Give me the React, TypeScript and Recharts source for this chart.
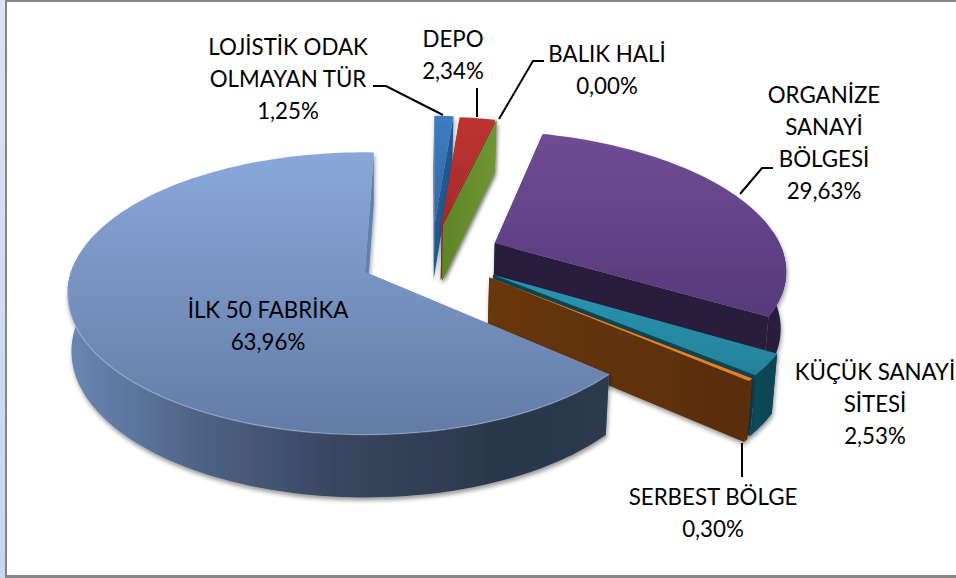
import React from "react";
import { PieChart, Pie } from "recharts";

// ---- data ----
const sliceNames = ["LOJİSTİK ODAK OLMAYAN TÜR", "DEPO", "BALIK HALİ", "ORGANİZE SANAYİ BÖLGESİ", "KÜÇÜK SANAYİ SİTESİ", "SERBEST BÖLGE", "İLK 50 FABRİKA"];
const sliceValues = [1.25, 2.34, 0.0, 29.63, 2.53, 0.3, 63.96];
const labelLines = [
  ["LOJİSTİK ODAK", "OLMAYAN TÜR", "1,25%"],
  ["DEPO", "2,34%"],
  ["BALIK HALİ", "0,00%"],
  ["ORGANİZE", "SANAYİ", "BÖLGESİ", "29,63%"],
  ["KÜÇÜK SANAYİ", "SİTESİ", "2,53%"],
  ["SERBEST BÖLGE", "0,30%"],
  ["İLK 50 FABRİKA", "63,96%"],
];

// ---- appearance ----
const W = 956, H = 578;
const CX = 365, CY = 272, R = 294;
const TILT = 0.469, PERSP = 0.152, DEPTH = 57, BOTTOM_Y = 1.036, BOTTOM_X = 0.987;
const explode: [number, number][] = [[0.25, -0.37], [0.275, -0.36], [0.28, -0.355], [0.456, -0.215], [0.434, 0.02], [0.42, 0.04], [0, 0]];
const styles = [
  { top: ["#3f7cc0", "#2f68a8"], wall: [[0, "#2a5f9c"], [1, "#2a5f9c"]], side: ["#255690", "#255690"] },
  { top: ["#bd3431", "#a52a28"], wall: [[0, "#8a2321"], [1, "#8a2321"]], side: ["#a02927", "#a02927"] },
  { top: ["#7aa336", "#6b9130"], wall: [[0, "#6b9130"], [1, "#6b9130"]], side: ["#5f8529", "#6f9632"] },
  { top: ["#6f4c94", "#573a7c"], wall: [[0, "#291b3e"], [1, "#291b3e"]], side: ["#291b3e", "#291b3e"] },
  { top: ["#2b96b2", "#24819b"], wall: [[0, "#0f4a59"], [1, "#0f4452"]], side: ["#0e4452", "#0e4452"] },
  { top: ["#e68222", "#e68222"], wall: [[0, "#5c2f08"], [1, "#5c2f08"]], side: ["#693709", "#582d08"] },
  {
    top: ["#8aa7da", "#637ca6"],
    wall: [[0, "#6a87b4"], [0.25, "#4d6284"], [0.5, "#38465f"], [0.8, "#2b384c"], [1, "#2d3a4f"]],
    side: ["#6180b0", "#6180b0"],
  },
];
const labelPos: [number, number][] = [[288, 55], [453, 47], [607, 62], [824, 103], [875, 380], [713, 505], [268, 318]];
const labelLeaders: number[][][] = [
  [[373, 86], [386, 86], [443, 115]],
  [[477, 88], [477, 117]],
  [[544, 61], [533, 61], [499, 119]],
  [[773, 168], [762, 168], [740, 194]],
  [],
  [[742, 443], [742, 477]],
  [],
];
const LINE_H = 32, FONT = 22.3;

const rad = (d: number) => (d * Math.PI) / 180;
type Pt = [number, number];

function project(cx: number, cy: number, r: number, X: number, Y: number, bottom: boolean): Pt {
  const w = 1 - PERSP * Y;
  const ax = bottom ? r * BOTTOM_X : r;
  const ay = r * TILT * (bottom ? BOTTOM_Y : 1);
  return [cx + (ax * X) / w, cy + (bottom ? DEPTH : 0) + (ay * Y) / w];
}
const coords = (pts: Pt[]) => pts.map((p) => p[0].toFixed(1) + " " + p[1].toFixed(1)).join("L");
const poly = (pts: Pt[]) => "M" + coords(pts) + "Z";

function Slice3D(props: any) {
  const { cx, cy, outerRadius, startAngle, endAngle, index } = props;
  const [ox, oy] = explode[index];
  const at = (a: number, bottom: boolean): Pt =>
    project(cx, cy, outerRadius, ox + Math.cos(rad(a)), oy - Math.sin(rad(a)), bottom);
  const apex = (bottom: boolean): Pt => project(cx, cy, outerRadius, ox, oy, bottom);

  const steps = Math.max(2, Math.ceil(Math.abs(endAngle - startAngle) / 1.5));
  const arcTop: Pt[] = [];
  const frontTop: Pt[] = [];
  const frontBot: Pt[] = [];
  const rimPts: Pt[] = [];
  for (let i = 0; i <= steps; i++) {
    const a = startAngle + ((endAngle - startAngle) * i) / steps;
    arcTop.push(at(a, false));
    if (Math.sin(rad(a)) < 0.1) {
      frontTop.push(at(a, false));
      frontBot.push(at(a, true));
    }
    if (Math.sin(rad(a)) < -0.1) rimPts.push(at(a, false));
  }
  const radial = (a: number) => poly([apex(false), at(a, false), at(a, true), apex(true)]);
  const walls = [
    { d: radial(startAngle), y: -Math.sin(rad(startAngle)) },
    { d: radial(endAngle), y: -Math.sin(rad(endAngle)) },
  ].sort((p, q) => p.y - q.y);
  const top = poly([apex(false), ...arcTop]);
  return (
    <g filter="url(#softShadow)">
      {walls.map((w, i) => (
        <path key={i} d={w.d} fill={`url(#side${index})`} />
      ))}
      {frontTop.length > 1 && (
        <path d={poly([...frontTop, ...frontBot.slice().reverse()])} fill={`url(#wall${index})`} />
      )}
      <path d={top} fill={`url(#top${index})`} />
      {index === 6 && rimPts.length > 1 && (
        <path d={"M" + coords(rimPts)} fill="none" stroke="#b4c6e6" strokeOpacity={0.45} strokeWidth={1.4} />
      )}
    </g>
  );
}

function SliceLabel(props: any) {
  const i = props.index;
  const [x, y] = labelPos[i];
  return (
    <g>
      {labelLeaders[i].length > 0 && (
        <polyline
          points={labelLeaders[i].map((p) => p.join(",")).join(" ")}
          fill="none"
          stroke="#000"
          strokeWidth={2}
        />
      )}
      <text x={x} y={y} textAnchor="middle" fontFamily="Lato" fontSize={FONT} fill="#000">
        {labelLines[i].map((t, k) => (
          <tspan key={k} x={x} y={y + k * LINE_H}>
            {t}
          </tspan>
        ))}
      </text>
    </g>
  );
}

const chartData = sliceNames.map((name, i) => ({ name, value: sliceValues[i] }));

export default function App() {
  return (
    <div style={{ position: "absolute", left: 0, top: 0, width: W, height: H, background: "#fff", overflow: "hidden" }}>
      <div
        style={{
          position: "absolute",
          left: 0,
          top: 0,
          width: 5,
          height: H,
          background: "linear-gradient(#dde4f4,#c8d5ea)",
        }}
      />
      <div style={{ position: "absolute", left: 5, top: 0, width: W - 5, height: 2, background: "#868686" }} />
      <div style={{ position: "absolute", left: 5, top: 0, width: 2, height: H, background: "#868686" }} />
      <div style={{ position: "absolute", left: 5, top: H - 3, width: W - 5, height: 3, background: "#868686" }} />
      <PieChart width={W} height={H} margin={{ top: 0, right: 0, bottom: 0, left: 0 }} style={{ position: "absolute", left: 0, top: 0 }}>
        <defs>
          <filter id="softShadow" x="-20%" y="-20%" width="140%" height="140%">
            <feDropShadow dx={1} dy={3} stdDeviation={2} floodColor="#000" floodOpacity={0.4} />
          </filter>
          {styles.map((s, i) => (
            <React.Fragment key={i}>
              <linearGradient id={`top${i}`} x1="0" y1="0" x2="0" y2="1">
                <stop offset="0" stopColor={s.top[0]} />
                <stop offset="1" stopColor={s.top[1]} />
              </linearGradient>
              <linearGradient id={`wall${i}`} x1="0" y1="0" x2="1" y2="0">
                {s.wall.map((w, k) => (
                  <stop key={k} offset={w[0]} stopColor={w[1] as string} />
                ))}
              </linearGradient>
              <linearGradient id={`side${i}`} x1="0" y1="0" x2="1" y2="0">
                <stop offset="0" stopColor={s.side[0]} />
                <stop offset="1" stopColor={s.side[1]} />
              </linearGradient>
            </React.Fragment>
          ))}
        </defs>
        <Pie
          data={chartData}
          dataKey="value"
          nameKey="name"
          cx={CX}
          cy={CY}
          innerRadius={0}
          outerRadius={R}
          startAngle={88}
          endAngle={-272}
          paddingAngle={0}
          stroke="none"
          isAnimationActive={false}
          shape={Slice3D}
          label={SliceLabel}
          labelLine={false}
        />
      </PieChart>
    </div>
  );
}
